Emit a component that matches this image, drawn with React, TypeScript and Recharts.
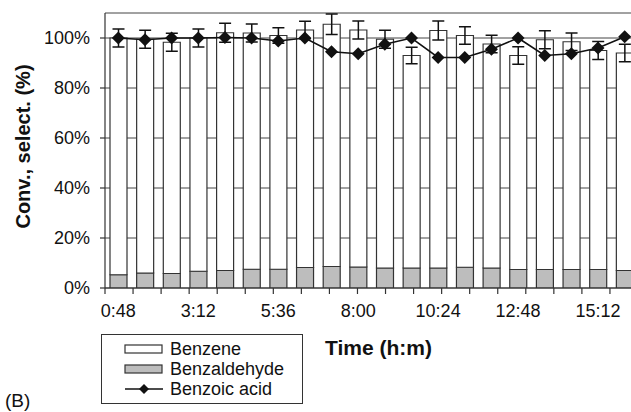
import { ComposedChart, Bar, Line, XAxis, YAxis, CartesianGrid, ErrorBar } from 'recharts';

const times = ['0:48', '1:36', '2:24', '3:12', '4:00', '4:48', '5:36', '6:24', '7:12', '8:00',
  '8:48', '9:36', '10:24', '11:12', '12:00', '12:48', '13:36', '14:24', '15:12', '16:00'];
const benzaldehyde = [5.3, 6.0, 5.8, 6.7, 7.0, 7.5, 7.5, 8.2, 8.6, 8.4, 8.0, 8.0, 8.0, 8.3, 8.0, 7.4, 7.4, 7.4, 7.4, 7.0];
const benzene = [94.7, 93.5, 92.5, 93.3, 95.1, 94.5, 93.5, 95.0, 96.9, 94.8, 91.5, 85.0, 95.0, 92.7, 89.6, 85.6, 91.9, 91.1, 87.6, 87.0];
const benzoicAcid = [100, 99.3, 100, 100, 100.2, 100, 98.8, 100, 94.5, 93.7, 97.5, 100, 92.2, 92.2, 95.5, 100, 93.0, 93.7, 96.0, 100.5];
const convError = [3.6, 3.6, 3.6, 3.6, 3.8, 3.6, 3.1, 3.5, 4.1, 3.6, 3.6, 3.3, 3.8, 3.5, 3.5, 3.5, 3.6, 3.5, 3.6, 3.5];
const yTicks = [0, 20, 40, 60, 80, 100];

const boundaryTicks = times.map((_, i) => i).concat(times.length);

const chartData = times.map((t, i) => ({
  time: t,
  benzaldehyde: benzaldehyde[i],
  benzene: benzene[i],
  benzoic: benzoicAcid[i],
  err: convError[i],
}));

const FONT = '"Liberation Sans", Arial, Helvetica, sans-serif';

const DiamondDot = (props: any) => {
  const { cx, cy, index } = props;
  if (cx == null || cy == null) return null;
  const r = 6.5;
  return (
    <polygon
      key={`d-${index}`}
      points={`${cx},${cy - r} ${cx + r},${cy} ${cx},${cy + r} ${cx - r},${cy}`}
      fill="#111"
    />
  );
};

const YTitle = (props: any) => {
  const vb = props.viewBox;
  const x = vb.x + 23;
  const y = vb.y + vb.height / 2 - 4;
  return (
    <text x={x} y={y} transform={`rotate(-90, ${x}, ${y})`} textAnchor="middle" dominantBaseline="central"
      fontFamily={FONT} fontSize={20} fontWeight="bold" fill="#111">
      Conv., select. (%)
    </text>
  );
};

const XTitle = (props: any) => {
  const vb = props.viewBox;
  return (
    <text x={vb.x + vb.width / 2 + 7} y={vb.y + 53} textAnchor="middle" dominantBaseline="central"
      fontFamily={FONT} fontSize={21} fontWeight="bold" fill="#111">
      Time (h:m)
    </text>
  );
};

const LegendBox = () => (
  <div style={{
    position: 'absolute', left: 101, top: 334, width: 200, height: 68,
    border: '1.5px solid #333', fontFamily: FONT, fontSize: 18, color: '#111',
  }}>
    {[
      { name: 'Benzene', kind: 'white' },
      { name: 'Benzaldehyde', kind: 'gray' },
      { name: 'Benzoic acid', kind: 'line' },
    ].map((item, i) => (
      <div key={item.name} style={{ position: 'absolute', left: 22, top: 4 + i * 20, height: 20, display: 'flex', alignItems: 'center' }}>
        <svg width={40} height={14} style={{ marginRight: 6 }}>
          {item.kind === 'line' ? (
            <g>
              <line x1={1} y1={7} x2={39} y2={7} stroke="#111" strokeWidth={1.5} />
              <polygon points="20,2 25,7 20,12 15,7" fill="#111" />
            </g>
          ) : (
            <rect x={1} y={3} width={37} height={8} fill={item.kind === 'gray' ? '#bdbdbd' : '#fff'} stroke="#333" strokeWidth={1.2} />
          )}
        </svg>
        <span style={{ lineHeight: '20px' }}>{item.name}</span>
      </div>
    ))}
  </div>
);

const App = () => {
  return (
    <div style={{ position: 'absolute', left: 0, top: 0, width: 631, height: 412, overflow: 'hidden', background: '#fff' }}>
      <ComposedChart
        width={650}
        height={412}
        data={chartData}
        margin={{ top: 13, right: 12, left: 0, bottom: 78 }}
      >
        <CartesianGrid vertical={false} stroke="#444" strokeWidth={1} />
        <XAxis
          xAxisId="b"
          dataKey="time"
          height={40}
          interval={2}
          axisLine={false}
          tickLine={false}
          tickSize={0}
          tickMargin={10}
          tick={{ fontFamily: FONT, fontSize: 18, fill: '#111' }}
          label={<XTitle />}
        />
        <XAxis
          xAxisId="a"
          type="number"
          domain={[0, times.length]}
          ticks={boundaryTicks}
          allowDataOverflow
          height={6}
          tickSize={6}
          tickFormatter={() => ''}
          axisLine={{ stroke: '#333', strokeWidth: 1.2 }}
          tickLine={{ stroke: '#333', strokeWidth: 1.2 }}
        />
        <YAxis
          width={105}
          domain={[0, 110]}
          ticks={yTicks}
          allowDataOverflow
          tickFormatter={(v: number) => `${v}%`}
          tickSize={5}
          tickMargin={10}
          tick={{ fontFamily: FONT, fontSize: 18, fill: '#111' }}
          axisLine={{ stroke: '#333', strokeWidth: 1.2 }}
          tickLine={{ stroke: '#333', strokeWidth: 1.2 }}
          label={<YTitle />}
        />
        <Bar xAxisId="b" dataKey="benzaldehyde" stackId="s" barSize={17} fill="#bdbdbd" stroke="#333" strokeWidth={1.2} isAnimationActive={false} />
        <Bar xAxisId="b" dataKey="benzene" stackId="s" barSize={17} fill="#fff" stroke="#333" strokeWidth={1.2} isAnimationActive={false}>
          <ErrorBar dataKey="err" direction="y" width={6} stroke="#111" strokeWidth={1.5} isAnimationActive={false} />
        </Bar>
        <Line xAxisId="b" dataKey="benzoic" type="linear" stroke="#111" strokeWidth={1.6} dot={<DiamondDot />} activeDot={false} isAnimationActive={false} />
      </ComposedChart>
      <LegendBox />
      <div style={{ position: 'absolute', left: 5, top: 390, fontFamily: FONT, fontSize: 19, color: '#111' }}>(B)</div>
    </div>
  );
};

export default App;
